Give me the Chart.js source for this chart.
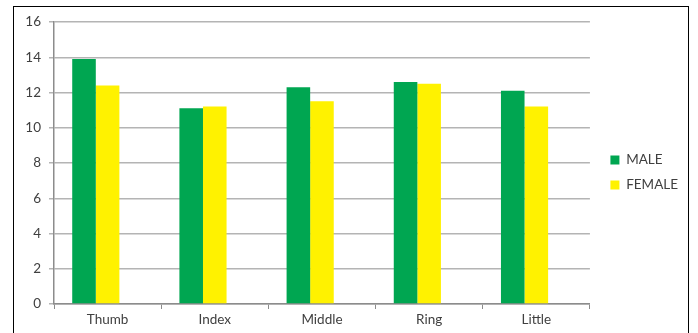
<!DOCTYPE html>
<html>
<head>
<meta charset="utf-8">
<script src="https://cdn.jsdelivr.net/npm/chart.js@4/dist/chart.umd.min.js"></script>
<style>
  html, body { margin: 0; padding: 0; background: #fff; }
  #wrap { position: relative; width: 698px; height: 333px; overflow: hidden; }
  #frame { position: absolute; left: 13px; top: 6px; width: 676px; height: 340px; border: 1.5px solid #000; box-sizing: border-box; pointer-events: none; }
  canvas { position: absolute; left: 0; top: 0; }
</style>
</head>
<body>
<div id="wrap">
  <canvas id="fingerChart" width="698" height="333"></canvas>
  <div id="frame"></div>
</div>
<script>
const fingers = ['Thumb', 'Index', 'Middle', 'Ring', 'Little'];
const maleValues = [13.9, 11.1, 12.3, 12.6, 12.1];
const femaleValues = [12.4, 11.2, 11.5, 12.5, 11.2];
// the original sheet has an empty third series, which pushes the pairs left
const emptyValues = [null, null, null, null, null];
const yTicks = [0, 2, 4, 6, 8, 10, 12, 14, 16];

const labelFont = { family: 'Lato', size: 13.5 };

// legend sits a little further from the plot and a bit higher than default
const legendShift = {
	id: 'legendShift',
	afterInit(chart) {
		const legend = chart.legend;
		const fit = legend.fit;
		legend.fit = function () {
			fit.call(this);
			this.width += 11;
		};
	},
	afterLayout(chart) {
		const legend = chart.legend;
		legend.left += 9;
		legend.right += 9;
		legend.top -= 5;
		legend.bottom -= 5;
	}
};

const ctx = document.getElementById('fingerChart').getContext('2d');
new Chart(ctx, {
	type: 'bar',
	data: {
		labels: fingers,
		datasets: [
			{ label: 'MALE', data: maleValues, backgroundColor: '#00A651' },
			{ label: 'FEMALE', data: femaleValues, backgroundColor: '#FFF200' },
			{ label: '', data: emptyValues, backgroundColor: 'rgba(0,0,0,0)' }
		]
	},
	options: {
		responsive: false,
		animation: false,
		layout: { padding: { left: 14, top: 22, right: 8, bottom: 0 } },
		datasets: { bar: { barPercentage: 1, categoryPercentage: 0.66 } },
		plugins: {
			tooltip: { enabled: false },
			legend: {
				position: 'right',
				labels: {
					boxWidth: 9, boxHeight: 9, padding: 11.5,
					color: '#404040', font: labelFont,
					filter: item => item.datasetIndex < 2
				}
			}
		},
		scales: {
			x: {
				afterFit: s => { s.height = 29; },
				grid: { drawOnChartArea: false, tickLength: 5, color: '#8c8c8c' },
				border: { color: '#8c8c8c', width: 1.5 },
				ticks: { color: '#404040', font: labelFont, padding: 3 }
			},
			y: {
				min: 0, max: 16,
				afterFit: s => { s.width = 40; },
				afterBuildTicks: s => { s.ticks = yTicks.map(v => ({ value: v })); },
				grid: { color: '#b4b4b4', lineWidth: 1.5, tickLength: 5 },
				border: { color: '#8c8c8c', width: 1.5 },
				ticks: { color: '#404040', font: labelFont, padding: 8 }
			}
		}
	},
	plugins: [legendShift]
});
</script>
</body>
</html>
